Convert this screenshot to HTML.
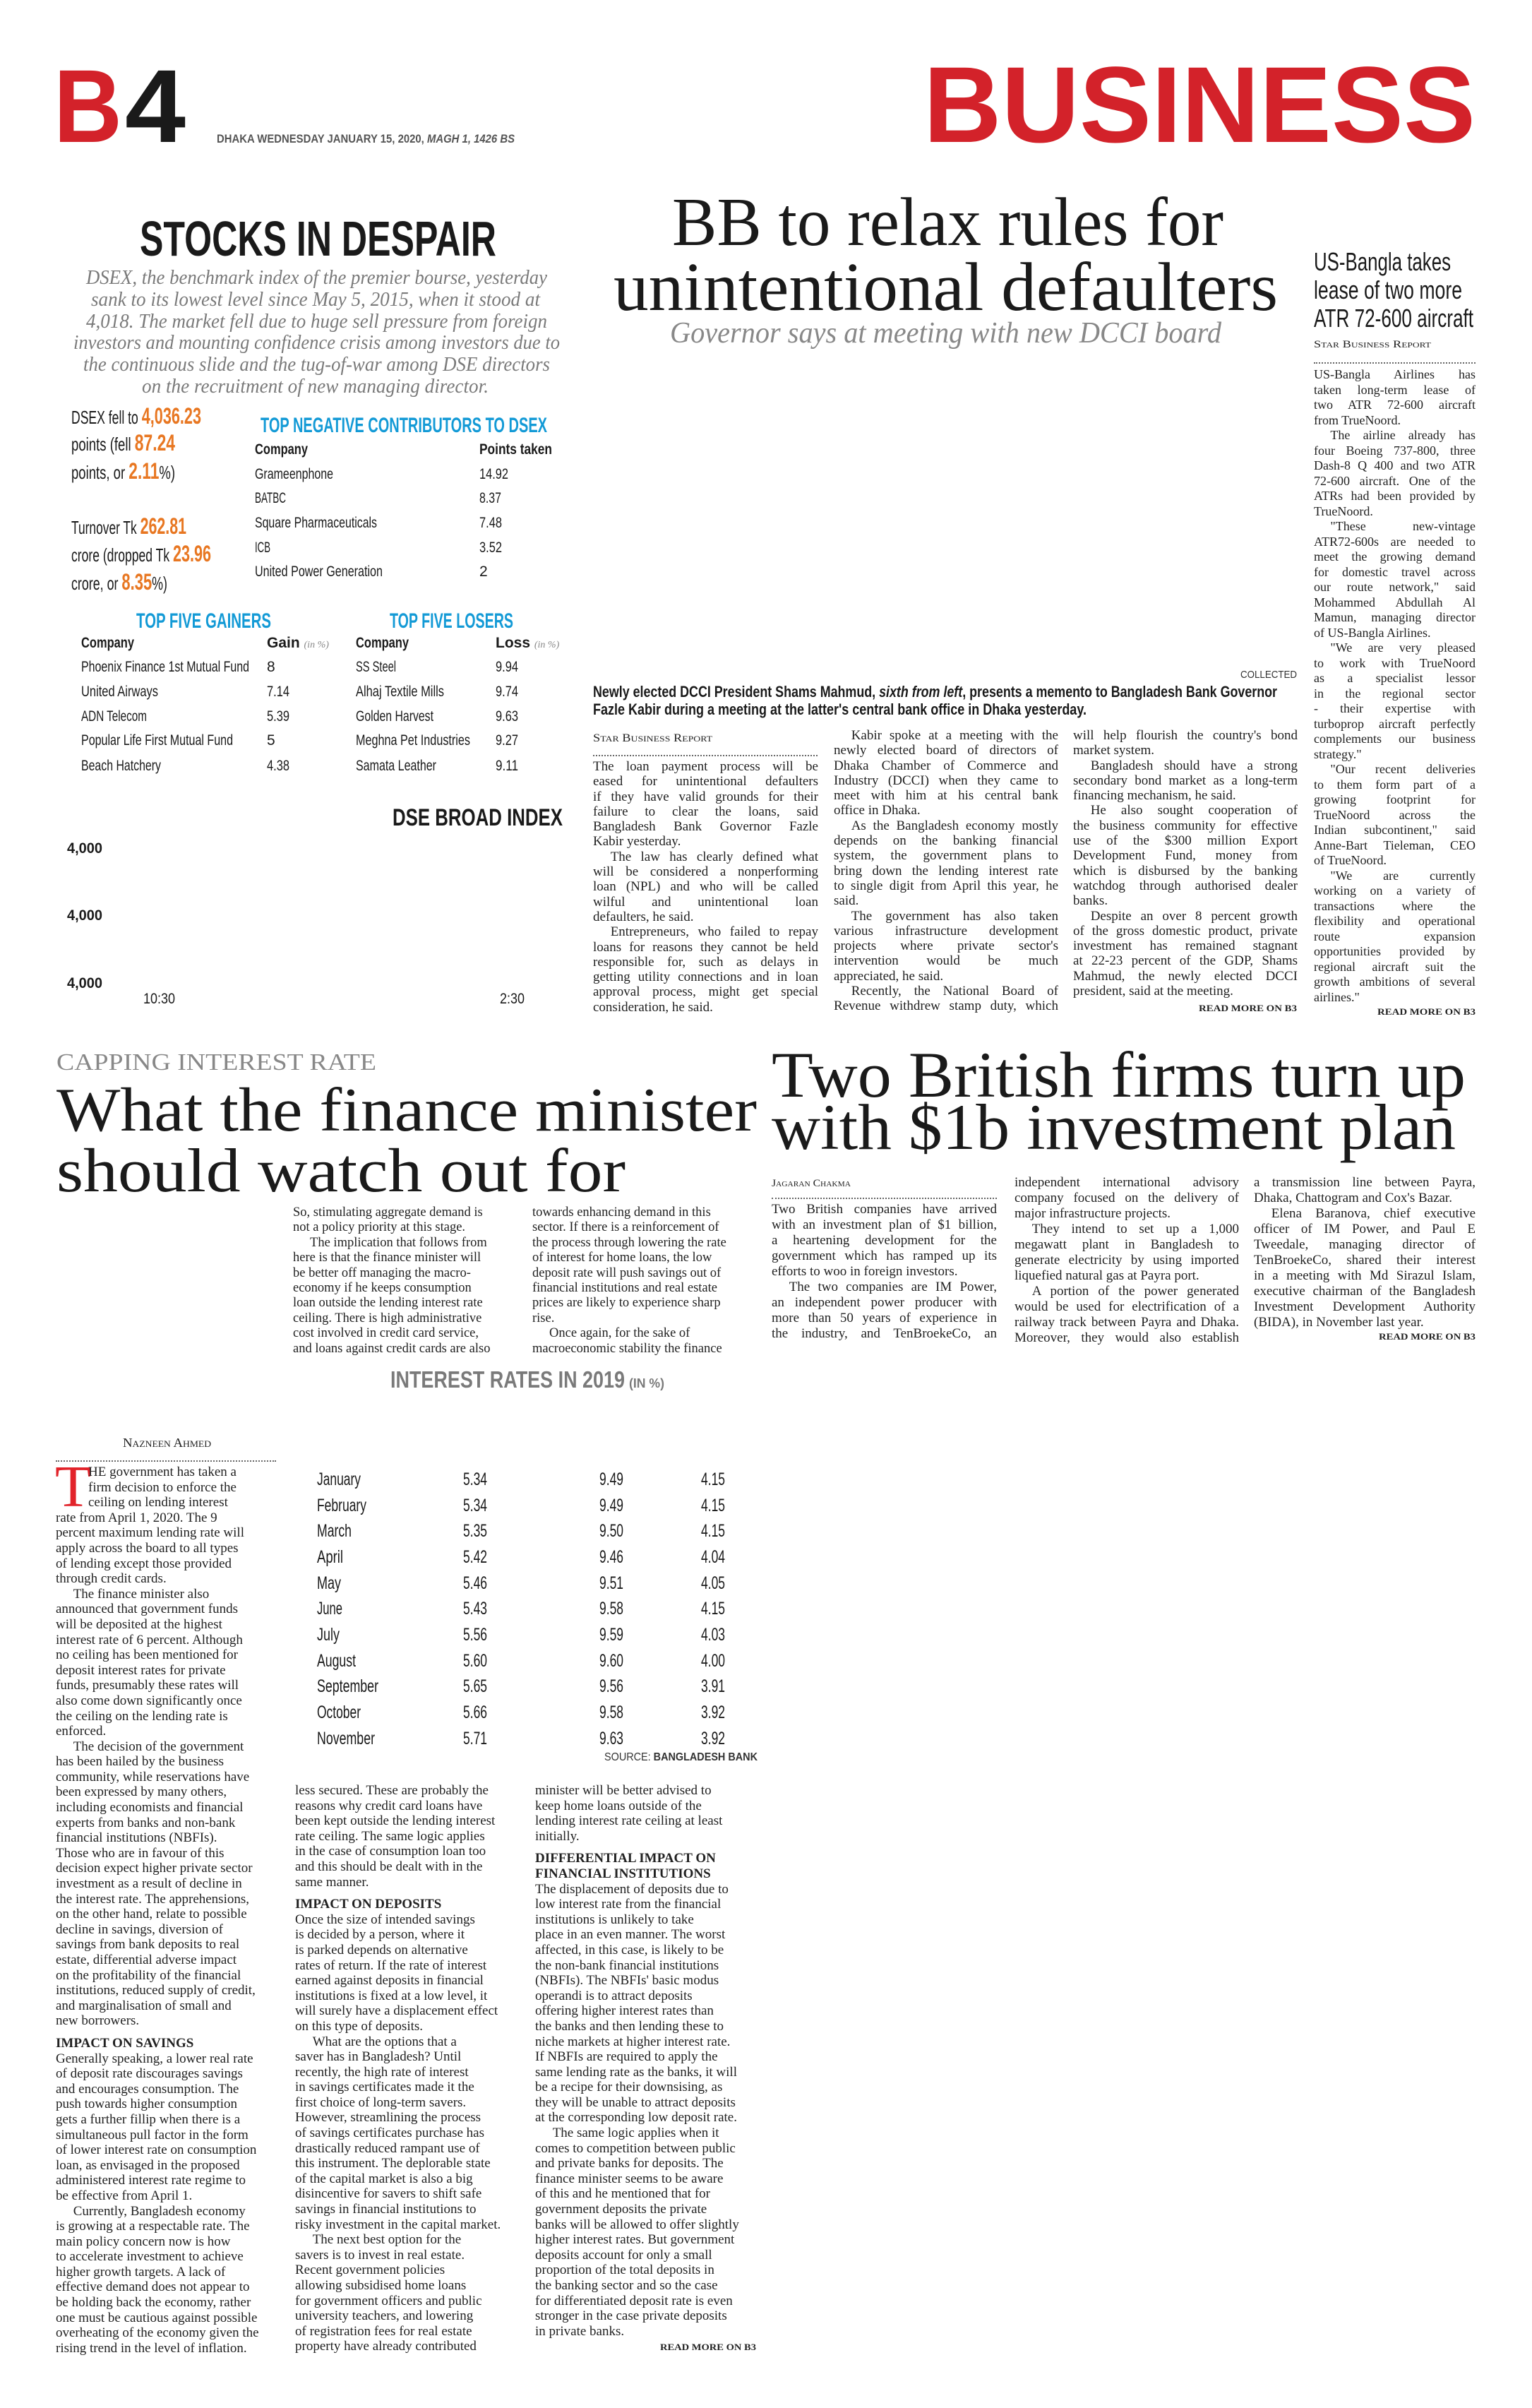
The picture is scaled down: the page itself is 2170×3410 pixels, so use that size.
<!DOCTYPE html>
<html><head><meta charset="utf-8">
<style>
html,body{margin:0;padding:0;background:#fff}
#p{position:relative;width:2170px;height:3410px;overflow:hidden;background:#fff}
svg{position:absolute;left:0;top:0}
.s{font-family:"Liberation Sans",sans-serif}
.r{font-family:"Liberation Serif",serif}
.col{position:absolute;font-family:"Liberation Serif",serif;color:#222}
.col div{overflow:hidden;white-space:nowrap}
.j div{text-align:justify;text-align-last:justify;white-space:normal}
.j div.e{text-align-last:left}
.i{text-indent:1.3em}
.h{font-weight:bold;margin-top:10px}
.dot{position:absolute;border-top:2px dotted #666;height:0}
</style></head><body><div id="p">

<svg width="2170" height="3410" viewBox="0 0 2170 3410">
<g class="s" font-weight="bold">
<text x="76" y="201" font-size="147" fill="#d3222a" textLength="97" lengthAdjust="spacingAndGlyphs">B</text>
<text x="177" y="201" font-size="147" fill="#1a1a1a" textLength="86" lengthAdjust="spacingAndGlyphs">4</text>
<text x="307" y="202" font-size="17" fill="#555" textLength="422" lengthAdjust="spacingAndGlyphs">DHAKA WEDNESDAY JANUARY 15, 2020, <tspan font-style="italic">MAGH 1, 1426 BS</tspan></text>
<text x="1308" y="201" font-size="153" fill="#d3222a" textLength="782" lengthAdjust="spacingAndGlyphs">BUSINESS</text>
<text x="198" y="362" font-size="70" fill="#1a1a1a" textLength="505" lengthAdjust="spacingAndGlyphs">STOCKS IN DESPAIR</text>
</g>
<g class="r" font-style="italic" font-size="28" fill="#7a7a7a">
<text x="122" y="402" textLength="653" lengthAdjust="spacingAndGlyphs">DSEX, the benchmark index of the premier bourse, yesterday</text>
<text x="129" y="433" textLength="636" lengthAdjust="spacingAndGlyphs">sank to its lowest level since May 5, 2015, when it stood at</text>
<text x="122" y="464" textLength="653" lengthAdjust="spacingAndGlyphs">4,018. The market fell due to huge sell pressure from foreign</text>
<text x="104" y="494" textLength="689" lengthAdjust="spacingAndGlyphs">investors and mounting confidence crisis among investors due to</text>
<text x="118" y="525" textLength="661" lengthAdjust="spacingAndGlyphs">the continuous slide and the tug-of-war among DSE directors</text>
<text x="201" y="556" textLength="491" lengthAdjust="spacingAndGlyphs">on the recruitment of new managing director.</text>
</g>
<g class="s" font-size="26" fill="#1a1a1a">
<text x="101" y="600" textLength="184" lengthAdjust="spacingAndGlyphs">DSEX fell to <tspan fill="#e87722" font-weight="bold" font-size="32">4,036.23</tspan></text>
<text x="101" y="638" textLength="147" lengthAdjust="spacingAndGlyphs">points (fell <tspan fill="#e87722" font-weight="bold" font-size="32">87.24</tspan></text>
<text x="101" y="678" textLength="147" lengthAdjust="spacingAndGlyphs">points, or <tspan fill="#e87722" font-weight="bold" font-size="32">2.11</tspan>%)</text>
<text x="101" y="756" textLength="163" lengthAdjust="spacingAndGlyphs">Turnover Tk <tspan fill="#e87722" font-weight="bold" font-size="32">262.81</tspan></text>
<text x="101" y="795" textLength="198" lengthAdjust="spacingAndGlyphs">crore (dropped Tk <tspan fill="#e87722" font-weight="bold" font-size="32">23.96</tspan></text>
<text x="101" y="835" textLength="136" lengthAdjust="spacingAndGlyphs">crore, or <tspan fill="#e87722" font-weight="bold" font-size="32">8.35</tspan>%)</text>
</g>
<g class="s" font-weight="bold" font-size="30" fill="#139ad6">
<text x="369" y="612" textLength="406" lengthAdjust="spacingAndGlyphs">TOP NEGATIVE CONTRIBUTORS TO DSEX</text>
<text x="193" y="889" textLength="191" lengthAdjust="spacingAndGlyphs">TOP FIVE GAINERS</text>
<text x="552" y="889" textLength="175" lengthAdjust="spacingAndGlyphs">TOP FIVE LOSERS</text>
</g>
<g class="s" font-size="21" fill="#1a1a1a">
<text x="361" y="643" font-weight="bold" textLength="75" lengthAdjust="spacingAndGlyphs">Company</text>
<text x="679" y="643" font-weight="bold" textLength="103" lengthAdjust="spacingAndGlyphs">Points taken</text>
<text x="361" y="678" textLength="111" lengthAdjust="spacingAndGlyphs">Grameenphone</text>
<text x="361" y="712" textLength="44" lengthAdjust="spacingAndGlyphs">BATBC</text>
<text x="361" y="747" textLength="173" lengthAdjust="spacingAndGlyphs">Square Pharmaceuticals</text>
<text x="361" y="782" textLength="22" lengthAdjust="spacingAndGlyphs">ICB</text>
<text x="361" y="816" textLength="181" lengthAdjust="spacingAndGlyphs">United Power Generation</text>
<text x="679" y="678" textLength="41" lengthAdjust="spacingAndGlyphs">14.92</text>
<text x="679" y="712" textLength="31" lengthAdjust="spacingAndGlyphs">8.37</text>
<text x="679" y="747" textLength="32" lengthAdjust="spacingAndGlyphs">7.48</text>
<text x="679" y="782" textLength="32" lengthAdjust="spacingAndGlyphs">3.52</text>
<text x="679" y="816">2</text>

<text x="115" y="917" font-weight="bold" textLength="75" lengthAdjust="spacingAndGlyphs">Company</text>
<text x="378" y="917" font-weight="bold">Gain <tspan class="r" font-weight="normal" font-style="italic" font-size="14" fill="#888">(in %)</tspan></text>
<text x="504" y="917" font-weight="bold" textLength="75" lengthAdjust="spacingAndGlyphs">Company</text>
<text x="702" y="917" font-weight="bold">Loss <tspan class="r" font-weight="normal" font-style="italic" font-size="14" fill="#888">(in %)</tspan></text>

<text x="115" y="951" textLength="238" lengthAdjust="spacingAndGlyphs">Phoenix Finance 1st Mutual Fund</text>
<text x="115" y="986" textLength="109" lengthAdjust="spacingAndGlyphs">United Airways</text>
<text x="115" y="1021" textLength="93" lengthAdjust="spacingAndGlyphs">ADN Telecom</text>
<text x="115" y="1055" textLength="215" lengthAdjust="spacingAndGlyphs">Popular Life First Mutual Fund</text>
<text x="115" y="1091" textLength="113" lengthAdjust="spacingAndGlyphs">Beach Hatchery</text>
<text x="378" y="951">8</text>
<text x="378" y="986" textLength="32" lengthAdjust="spacingAndGlyphs">7.14</text>
<text x="378" y="1021" textLength="32" lengthAdjust="spacingAndGlyphs">5.39</text>
<text x="378" y="1055">5</text>
<text x="378" y="1091" textLength="32" lengthAdjust="spacingAndGlyphs">4.38</text>
<text x="504" y="951" textLength="57" lengthAdjust="spacingAndGlyphs">SS Steel</text>
<text x="504" y="986" textLength="125" lengthAdjust="spacingAndGlyphs">Alhaj Textile Mills</text>
<text x="504" y="1021" textLength="110" lengthAdjust="spacingAndGlyphs">Golden Harvest</text>
<text x="504" y="1055" textLength="162" lengthAdjust="spacingAndGlyphs">Meghna Pet Industries</text>
<text x="504" y="1091" textLength="114" lengthAdjust="spacingAndGlyphs">Samata Leather</text>
<text x="702" y="951" textLength="32" lengthAdjust="spacingAndGlyphs">9.94</text>
<text x="702" y="986" textLength="32" lengthAdjust="spacingAndGlyphs">9.74</text>
<text x="702" y="1021" textLength="32" lengthAdjust="spacingAndGlyphs">9.63</text>
<text x="702" y="1055" textLength="32" lengthAdjust="spacingAndGlyphs">9.27</text>
<text x="702" y="1091" textLength="32" lengthAdjust="spacingAndGlyphs">9.11</text>
</g>
<g class="s" fill="#1a1a1a">
<text x="556" y="1169" font-size="34" font-weight="bold" textLength="241" lengthAdjust="spacingAndGlyphs">DSE BROAD INDEX</text>
<text x="95" y="1208" font-size="21" font-weight="bold" textLength="50" lengthAdjust="spacingAndGlyphs">4,000</text>
<text x="95" y="1303" font-size="21" font-weight="bold" textLength="50" lengthAdjust="spacingAndGlyphs">4,000</text>
<text x="95" y="1399" font-size="21" font-weight="bold" textLength="50" lengthAdjust="spacingAndGlyphs">4,000</text>
<text x="203" y="1421" font-size="21" textLength="45" lengthAdjust="spacingAndGlyphs">10:30</text>
<text x="708" y="1421" font-size="21" textLength="35" lengthAdjust="spacingAndGlyphs">2:30</text>
</g>

<!-- main headline -->
<g class="r" fill="#1a1a1a">
<text x="952" y="347" font-size="98" textLength="781" lengthAdjust="spacingAndGlyphs">BB to relax rules for</text>
<text x="869" y="439" font-size="98" textLength="941" lengthAdjust="spacingAndGlyphs">unintentional defaulters</text>
<text x="949" y="485" font-size="42" font-style="italic" fill="#888" textLength="781" lengthAdjust="spacingAndGlyphs">Governor says at meeting with new DCCI board</text>
</g>
<g class="s" fill="#1a1a1a">
<text x="1861" y="383" font-size="36" textLength="194" lengthAdjust="spacingAndGlyphs">US-Bangla takes</text>
<text x="1861" y="423" font-size="36" textLength="210" lengthAdjust="spacingAndGlyphs">lease of two more</text>
<text x="1861" y="463" font-size="36" textLength="226" lengthAdjust="spacingAndGlyphs">ATR 72-600 aircraft</text>
</g>
<g class="r" fill="#222">
<text x="1861" y="492" font-size="15" textLength="166" lengthAdjust="spacingAndGlyphs">S<tspan font-size="11">TAR</tspan> B<tspan font-size="11">USINESS</tspan> R<tspan font-size="11">EPORT</tspan></text>
<text x="840" y="1050" font-size="16" textLength="169" lengthAdjust="spacingAndGlyphs">S<tspan font-size="12">TAR</tspan> B<tspan font-size="12">USINESS</tspan> R<tspan font-size="12">EPORT</tspan></text>
<text x="1093" y="1680" font-size="15" textLength="112" lengthAdjust="spacingAndGlyphs">J<tspan font-size="11">AGARAN</tspan> C<tspan font-size="11">HAKMA</tspan></text>
<text x="174" y="2049" font-size="18" textLength="125" lengthAdjust="spacingAndGlyphs">N<tspan font-size="13">AZNEEN</tspan> A<tspan font-size="13">HMED</tspan></text>
</g>
<g class="s">
<text x="1757" y="960" font-size="15" fill="#333" textLength="80" lengthAdjust="spacingAndGlyphs">COLLECTED</text>
<text x="840" y="987" font-size="22" font-weight="bold" fill="#1a1a1a" textLength="969" lengthAdjust="spacingAndGlyphs">Newly elected DCCI President Shams Mahmud, <tspan font-style="italic">sixth from left</tspan>, presents a memento to Bangladesh Bank Governor</text>
<text x="840" y="1012" font-size="22" font-weight="bold" fill="#1a1a1a" textLength="699" lengthAdjust="spacingAndGlyphs">Fazle Kabir during a meeting at the latter's central bank office in Dhaka yesterday.</text>
</g>
<g class="r" font-weight="bold" font-size="13" fill="#222">
<text x="1698" y="1432" textLength="139" lengthAdjust="spacingAndGlyphs">READ MORE ON B3</text>
<text x="1951" y="1437" textLength="139" lengthAdjust="spacingAndGlyphs">READ MORE ON B3</text>
<text x="1953" y="1897" textLength="137" lengthAdjust="spacingAndGlyphs">READ MORE ON B3</text>
<text x="935" y="3328" textLength="136" lengthAdjust="spacingAndGlyphs">READ MORE ON B3</text>
</g>

<!-- second section -->
<g class="r" fill="#1a1a1a">
<text x="80" y="1515" font-size="34" fill="#888" textLength="453" lengthAdjust="spacingAndGlyphs">CAPPING INTEREST RATE</text>
<text x="80" y="1601" font-size="88" textLength="992" lengthAdjust="spacingAndGlyphs">What the finance minister</text>
<text x="80" y="1687" font-size="88" textLength="806" lengthAdjust="spacingAndGlyphs">should watch out for</text>
<text x="1093" y="1553" font-size="92" textLength="983" lengthAdjust="spacingAndGlyphs">Two British firms turn up</text>
<text x="1093" y="1627" font-size="92" textLength="969" lengthAdjust="spacingAndGlyphs">with $1b investment plan</text>
</g>
<g class="s" font-weight="bold" fill="#7a7a7a">
<text x="553" y="1965" font-size="33" textLength="332" lengthAdjust="spacingAndGlyphs">INTEREST RATES IN 2019</text>
<text x="891" y="1965" font-size="18" textLength="50" lengthAdjust="spacingAndGlyphs">(IN %)</text>
</g>
<g class="s" font-size="25" fill="#1a1a1a">
<text x="449" y="2103" textLength="62" lengthAdjust="spacingAndGlyphs">January</text>
<text x="449" y="2140" textLength="70" lengthAdjust="spacingAndGlyphs">February</text>
<text x="449" y="2176" textLength="49" lengthAdjust="spacingAndGlyphs">March</text>
<text x="449" y="2213" textLength="37" lengthAdjust="spacingAndGlyphs">April</text>
<text x="449" y="2250" textLength="34" lengthAdjust="spacingAndGlyphs">May</text>
<text x="449" y="2286" textLength="36" lengthAdjust="spacingAndGlyphs">June</text>
<text x="449" y="2323" textLength="32" lengthAdjust="spacingAndGlyphs">July</text>
<text x="449" y="2360" textLength="55" lengthAdjust="spacingAndGlyphs">August</text>
<text x="449" y="2396" textLength="87" lengthAdjust="spacingAndGlyphs">September</text>
<text x="449" y="2433" textLength="62" lengthAdjust="spacingAndGlyphs">October</text>
<text x="449" y="2470" textLength="82" lengthAdjust="spacingAndGlyphs">November</text>
</g>
<g class="s" font-size="25" fill="#1a1a1a">
<text x="656" y="2103" textLength="34" lengthAdjust="spacingAndGlyphs">5.34</text><text x="849" y="2103" textLength="34" lengthAdjust="spacingAndGlyphs">9.49</text><text x="993" y="2103" textLength="34" lengthAdjust="spacingAndGlyphs">4.15</text>
<text x="656" y="2140" textLength="34" lengthAdjust="spacingAndGlyphs">5.34</text><text x="849" y="2140" textLength="34" lengthAdjust="spacingAndGlyphs">9.49</text><text x="993" y="2140" textLength="34" lengthAdjust="spacingAndGlyphs">4.15</text>
<text x="656" y="2176" textLength="34" lengthAdjust="spacingAndGlyphs">5.35</text><text x="849" y="2176" textLength="34" lengthAdjust="spacingAndGlyphs">9.50</text><text x="993" y="2176" textLength="34" lengthAdjust="spacingAndGlyphs">4.15</text>
<text x="656" y="2213" textLength="34" lengthAdjust="spacingAndGlyphs">5.42</text><text x="849" y="2213" textLength="34" lengthAdjust="spacingAndGlyphs">9.46</text><text x="993" y="2213" textLength="34" lengthAdjust="spacingAndGlyphs">4.04</text>
<text x="656" y="2250" textLength="34" lengthAdjust="spacingAndGlyphs">5.46</text><text x="849" y="2250" textLength="34" lengthAdjust="spacingAndGlyphs">9.51</text><text x="993" y="2250" textLength="34" lengthAdjust="spacingAndGlyphs">4.05</text>
<text x="656" y="2286" textLength="34" lengthAdjust="spacingAndGlyphs">5.43</text><text x="849" y="2286" textLength="34" lengthAdjust="spacingAndGlyphs">9.58</text><text x="993" y="2286" textLength="34" lengthAdjust="spacingAndGlyphs">4.15</text>
<text x="656" y="2323" textLength="34" lengthAdjust="spacingAndGlyphs">5.56</text><text x="849" y="2323" textLength="34" lengthAdjust="spacingAndGlyphs">9.59</text><text x="993" y="2323" textLength="34" lengthAdjust="spacingAndGlyphs">4.03</text>
<text x="656" y="2360" textLength="34" lengthAdjust="spacingAndGlyphs">5.60</text><text x="849" y="2360" textLength="34" lengthAdjust="spacingAndGlyphs">9.60</text><text x="993" y="2360" textLength="34" lengthAdjust="spacingAndGlyphs">4.00</text>
<text x="656" y="2396" textLength="34" lengthAdjust="spacingAndGlyphs">5.65</text><text x="849" y="2396" textLength="34" lengthAdjust="spacingAndGlyphs">9.56</text><text x="993" y="2396" textLength="34" lengthAdjust="spacingAndGlyphs">3.91</text>
<text x="656" y="2433" textLength="34" lengthAdjust="spacingAndGlyphs">5.66</text><text x="849" y="2433" textLength="34" lengthAdjust="spacingAndGlyphs">9.58</text><text x="993" y="2433" textLength="34" lengthAdjust="spacingAndGlyphs">3.92</text>
<text x="656" y="2470" textLength="34" lengthAdjust="spacingAndGlyphs">5.71</text><text x="849" y="2470" textLength="34" lengthAdjust="spacingAndGlyphs">9.63</text><text x="993" y="2470" textLength="34" lengthAdjust="spacingAndGlyphs">3.92</text>
<text x="856" y="2493" font-size="16" fill="#333" textLength="217" lengthAdjust="spacingAndGlyphs">SOURCE: <tspan font-weight="bold">BANGLADESH BANK</tspan></text>
</g>
<text x="78" y="2133" class="r" font-size="84" fill="#e2232a">T</text>
</svg>

<div class="dot" style="left:1861px;top:513px;width:229px"></div>
<div class="dot" style="left:840px;top:1069px;width:318px"></div>
<div class="dot" style="left:1093px;top:1696px;width:319px"></div>
<div class="dot" style="left:79px;top:2068px;width:312px"></div>

<!-- US-Bangla column -->
<div class="col j" style="left:1861px;top:520px;width:229px;font-size:18px;line-height:21.5px">
<div>US-Bangla Airlines has</div><div>taken long-term lease of</div><div>two ATR 72-600 aircraft</div><div class="e">from TrueNoord.</div>
<div class="i">The airline already has</div><div>four Boeing 737-800, three</div><div>Dash-8 Q 400 and two ATR</div><div>72-600 aircraft. One of the</div><div>ATRs had been provided by</div><div class="e">TrueNoord.</div>
<div class="i">"These new-vintage</div><div>ATR72-600s are needed to</div><div>meet the growing demand</div><div>for domestic travel across</div><div>our route network," said</div><div>Mohammed Abdullah Al</div><div>Mamun, managing director</div><div class="e">of US-Bangla Airlines.</div>
<div class="i">"We are very pleased</div><div>to work with TrueNoord</div><div>as a specialist lessor</div><div>in the regional sector</div><div>- their expertise with</div><div>turboprop aircraft perfectly</div><div>complements our business</div><div class="e">strategy."</div>
<div class="i">"Our recent deliveries</div><div>to them form part of a</div><div>growing footprint for</div><div>TrueNoord across the</div><div>Indian subcontinent," said</div><div>Anne-Bart Tieleman, CEO</div><div class="e">of TrueNoord.</div>
<div class="i">"We are currently</div><div>working on a variety of</div><div>transactions where the</div><div>flexibility and operational</div><div>route expansion</div><div>opportunities provided by</div><div>regional aircraft suit the</div><div>growth ambitions of several</div><div class="e">airlines."</div>
</div>

<!-- BB columns -->
<div class="col j" style="left:840px;top:1075px;width:319px;font-size:19px;line-height:21.3px">
<div>The loan payment process will be</div><div>eased for unintentional defaulters</div><div>if they have valid grounds for their</div><div>failure to clear the loans, said</div><div>Bangladesh Bank Governor Fazle</div><div class="e">Kabir yesterday.</div>
<div class="i">The law has clearly defined what</div><div>will be considered a nonperforming</div><div>loan (NPL) and who will be called</div><div>wilful and unintentional loan</div><div class="e">defaulters, he said.</div>
<div class="i">Entrepreneurs, who failed to repay</div><div>loans for reasons they cannot be held</div><div>responsible for, such as delays in</div><div>getting utility connections and in loan</div><div>approval process, might get special</div><div class="e">consideration, he said.</div>
</div>
<div class="col j" style="left:1181px;top:1031px;width:318px;font-size:19px;line-height:21.3px">
<div class="i">Kabir spoke at a meeting with the</div><div>newly elected board of directors of</div><div>Dhaka Chamber of Commerce and</div><div>Industry (DCCI) when they came to</div><div>meet with him at his central bank</div><div class="e">office in Dhaka.</div>
<div class="i">As the Bangladesh economy mostly</div><div>depends on the banking financial</div><div>system, the government plans to</div><div>bring down the lending interest rate</div><div>to single digit from April this year, he</div><div class="e">said.</div>
<div class="i">The government has also taken</div><div>various infrastructure development</div><div>projects where private sector's</div><div>intervention would be much</div><div class="e">appreciated, he said.</div>
<div class="i">Recently, the National Board of</div><div>Revenue withdrew stamp duty, which</div>
</div>
<div class="col j" style="left:1520px;top:1031px;width:318px;font-size:19px;line-height:21.3px">
<div>will help flourish the country's bond</div><div class="e">market system.</div>
<div class="i">Bangladesh should have a strong</div><div>secondary bond market as a long-term</div><div class="e">financing mechanism, he said.</div>
<div class="i">He also sought cooperation of</div><div>the business community for effective</div><div>use of the $300 million Export</div><div>Development Fund, money from</div><div>which is disbursed by the banking</div><div>watchdog through authorised dealer</div><div class="e">banks.</div>
<div class="i">Despite an over 8 percent growth</div><div>of the gross domestic product, private</div><div>investment has remained stagnant</div><div>at 22-23 percent of the GDP, Shams</div><div>Mahmud, the newly elected DCCI</div><div class="e">president, said at the meeting.</div>
</div>

<!-- finance cols -->
<div class="col" style="left:415px;top:1707px;width:318px;font-size:18.5px;line-height:21.4px">
<div>So, stimulating aggregate demand is</div><div>not a policy priority at this stage.</div><div class="i">The implication that follows from</div><div>here is that the finance minister will</div><div>be better off managing the macro-</div><div>economy if he keeps consumption</div><div>loan outside the lending interest rate</div><div>ceiling. There is high administrative</div><div>cost involved in credit card service,</div><div>and loans against credit cards are also</div>
</div>
<div class="col" style="left:754px;top:1707px;width:318px;font-size:18.5px;line-height:21.4px">
<div>towards enhancing demand in this</div><div>sector. If there is a reinforcement of</div><div>the process through lowering the rate</div><div>of interest for home loans, the low</div><div>deposit rate will push savings out of</div><div>financial institutions and real estate</div><div>prices are likely to experience sharp</div><div>rise.</div><div class="i">Once again, for the sake of</div><div>macroeconomic stability the finance</div>
</div>

<!-- two british cols -->
<div class="col j" style="left:1093px;top:1702px;width:319px;font-size:19px;line-height:22px">
<div>Two British companies have arrived</div><div>with an investment plan of $1 billion,</div><div>a heartening development for the</div><div>government which has ramped up its</div><div class="e">efforts to woo in foreign investors.</div>
<div class="i">The two companies are IM Power,</div><div>an independent power producer with</div><div>more than 50 years of experience in</div><div>the industry, and TenBroekeCo, an</div>
</div>
<div class="col j" style="left:1437px;top:1664px;width:318px;font-size:19px;line-height:22px">
<div>independent international advisory</div><div>company focused on the delivery of</div><div class="e">major infrastructure projects.</div>
<div class="i">They intend to set up a 1,000</div><div>megawatt plant in Bangladesh to</div><div>generate electricity by using imported</div><div class="e">liquefied natural gas at Payra port.</div>
<div class="i">A portion of the power generated</div><div>would be used for electrification of a</div><div>railway track between Payra and Dhaka.</div><div>Moreover, they would also establish</div>
</div>
<div class="col j" style="left:1776px;top:1664px;width:314px;font-size:19px;line-height:22px">
<div>a transmission line between Payra,</div><div class="e">Dhaka, Chattogram and Cox's Bazar.</div>
<div class="i">Elena Baranova, chief executive</div><div>officer of IM Power, and Paul E</div><div>Tweedale, managing director of</div><div>TenBroekeCo, shared their interest</div><div>in a meeting with Md Sirazul Islam,</div><div>executive chairman of the Bangladesh</div><div>Investment Development Authority</div><div class="e">(BIDA), in November last year.</div>
</div>

<!-- bottom columns -->
<div class="col" style="left:79px;top:2074px;width:320px;font-size:19px;line-height:21.6px">
<div style="padding-left:46px">HE government has taken a</div><div style="padding-left:46px">firm decision to enforce the</div><div style="padding-left:46px">ceiling on lending interest</div>
<div>rate from April 1, 2020. The 9</div><div>percent maximum lending rate will</div><div>apply across the board to all types</div><div>of lending except those provided</div><div>through credit cards.</div>
<div class="i">The finance minister also</div><div>announced that government funds</div><div>will be deposited at the highest</div><div>interest rate of 6 percent. Although</div><div>no ceiling has been mentioned for</div><div>deposit interest rates for private</div><div>funds, presumably these rates will</div><div>also come down significantly once</div><div>the ceiling on the lending rate is</div><div>enforced.</div>
<div class="i">The decision of the government</div><div>has been hailed by the business</div><div>community, while reservations have</div><div>been expressed by many others,</div><div>including economists and financial</div><div>experts from banks and non-bank</div><div>financial institutions (NBFIs).</div><div>Those who are in favour of this</div><div>decision expect higher private sector</div><div>investment as a result of decline in</div><div>the interest rate. The apprehensions,</div><div>on the other hand, relate to possible</div><div>decline in savings, diversion of</div><div>savings from bank deposits to real</div><div>estate, differential adverse impact</div><div>on the profitability of the financial</div><div>institutions, reduced supply of credit,</div><div>and marginalisation of small and</div><div>new borrowers.</div>
<div class="h">IMPACT ON SAVINGS</div>
<div>Generally speaking, a lower real rate</div><div>of deposit rate discourages savings</div><div>and encourages consumption. The</div><div>push towards higher consumption</div><div>gets a further fillip when there is a</div><div>simultaneous pull factor in the form</div><div>of lower interest rate on consumption</div><div>loan, as envisaged in the proposed</div><div>administered interest rate regime to</div><div>be effective from April 1.</div>
<div class="i">Currently, Bangladesh economy</div><div>is growing at a respectable rate. The</div><div>main policy concern now is how</div><div>to accelerate investment to achieve</div><div>higher growth targets. A lack of</div><div>effective demand does not appear to</div><div>be holding back the economy, rather</div><div>one must be cautious against possible</div><div>overheating of the economy given the</div><div>rising trend in the level of inflation.</div>
</div>
<div class="col" style="left:418px;top:2525px;width:320px;font-size:19px;line-height:21.6px">
<div>less secured. These are probably the</div><div>reasons why credit card loans have</div><div>been kept outside the lending interest</div><div>rate ceiling. The same logic applies</div><div>in the case of consumption loan too</div><div>and this should be dealt with in the</div><div>same manner.</div>
<div class="h">IMPACT ON DEPOSITS</div>
<div>Once the size of intended savings</div><div>is decided by a person, where it</div><div>is parked depends on alternative</div><div>rates of return. If the rate of interest</div><div>earned against deposits in financial</div><div>institutions is fixed at a low level, it</div><div>will surely have a displacement effect</div><div>on this type of deposits.</div>
<div class="i">What are the options that a</div><div>saver has in Bangladesh? Until</div><div>recently, the high rate of interest</div><div>in savings certificates made it the</div><div>first choice of long-term savers.</div><div>However, streamlining the process</div><div>of savings certificates purchase has</div><div>drastically reduced rampant use of</div><div>this instrument. The deplorable state</div><div>of the capital market is also a big</div><div>disincentive for savers to shift safe</div><div>savings in financial institutions to</div><div>risky investment in the capital market.</div>
<div class="i">The next best option for the</div><div>savers is to invest in real estate.</div><div>Recent government policies</div><div>allowing subsidised home loans</div><div>for government officers and public</div><div>university teachers, and lowering</div><div>of registration fees for real estate</div><div>property have already contributed</div>
</div>
<div class="col" style="left:758px;top:2525px;width:320px;font-size:19px;line-height:21.6px">
<div>minister will be better advised to</div><div>keep home loans outside of the</div><div>lending interest rate ceiling at least</div><div>initially.</div>
<div class="h">DIFFERENTIAL IMPACT ON</div><div style="font-weight:bold">FINANCIAL INSTITUTIONS</div>
<div>The displacement of deposits due to</div><div>low interest rate from the financial</div><div>institutions is unlikely to take</div><div>place in an even manner. The worst</div><div>affected, in this case, is likely to be</div><div>the non-bank financial institutions</div><div>(NBFIs). The NBFIs' basic modus</div><div>operandi is to attract deposits</div><div>offering higher interest rates than</div><div>the banks and then lending these to</div><div>niche markets at higher interest rate.</div><div>If NBFIs are required to apply the</div><div>same lending rate as the banks, it will</div><div>be a recipe for their downsising, as</div><div>they will be unable to attract deposits</div><div>at the corresponding low deposit rate.</div>
<div class="i">The same logic applies when it</div><div>comes to competition between public</div><div>and private banks for deposits. The</div><div>finance minister seems to be aware</div><div>of this and he mentioned that for</div><div>government deposits the private</div><div>banks will be allowed to offer slightly</div><div>higher interest rates. But government</div><div>deposits account for only a small</div><div>proportion of the total deposits in</div><div>the banking sector and so the case</div><div>for differentiated deposit rate is even</div><div>stronger in the case private deposits</div><div>in private banks.</div>
</div>

</div></body></html>
